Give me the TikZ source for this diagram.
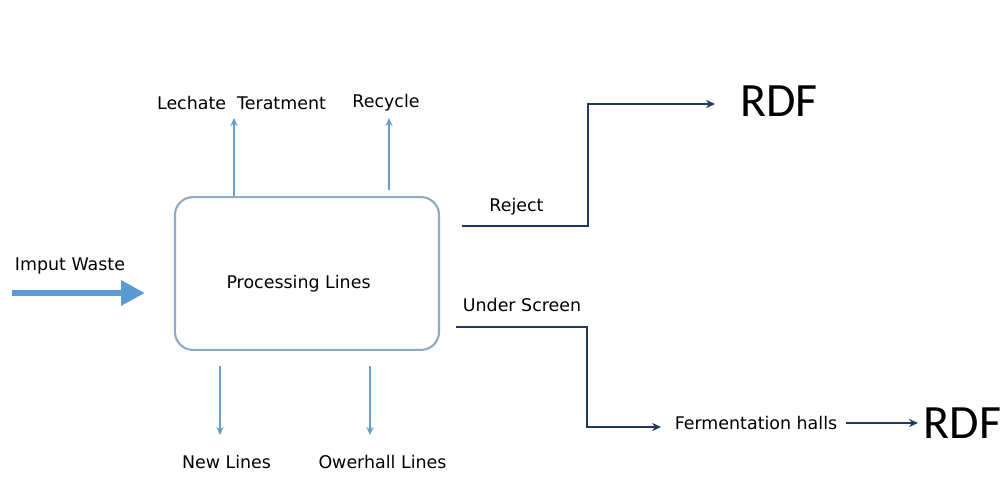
\documentclass[tikz,border=0pt]{standalone}
\usepackage{fontspec}
\setmainfont{DejaVu Sans}
\newfontfamily\rdffont{Carlito}
\usetikzlibrary{arrows.meta, positioning}
\definecolor{boxblue}{HTML}{8FAAC3}
\definecolor{sideblue}{HTML}{6A9CC8}
\definecolor{feedblue}{HTML}{5B9BD5}
\definecolor{routenavy}{HTML}{203864}

\begin{document}
\begin{tikzpicture}[
    x=0.025cm, y=-0.025cm,
    process/.style={draw=boxblue, line width=1.5pt, rounded corners=0.45cm, minimum width=6.6cm, minimum height=3.82cm, align=center},
    lbl/.style={font=\fontsize{12.4}{15}\selectfont, inner sep=1pt},
    rdf/.style={font=\rdffont\fontsize{34}{40}\selectfont, inner sep=0pt},
    side/.style={-{Stealth[length=2mm, width=1.8mm]}, draw=sideblue, line width=1.4pt},
    feed/.style={-{Triangle[length=17pt, width=17pt]}, draw=feedblue, line width=4.3pt},
    route/.style={-{Stealth[length=2.2mm, width=2mm]}, draw=routenavy, line width=2pt}
]
    \useasboundingbox (0,0) rectangle (1006,500);

    \node[process] (proc) at (307,273.5) {\fontsize{12.4}{15}\selectfont\raisebox{-11pt}[0pt][0pt]{Processing Lines\hspace{12pt}}};

    % input
    \node[lbl] (input) at (70,266) {Imput Waste};
    \coordinate (feedstart) at (12,293);
    \coordinate (feedend) at (145,293);
    \draw[feed] (feedstart) -- (feedend);

    % up and down
    \node[lbl] (lechate) at (241.5,103) {Lechate\ \ Teratment};
    \node[lbl] (recycle) at (386,103) {Recycle};
    \node[lbl] (newlines) at (226.5,462) {New Lines};
    \node[lbl] (overhaul) at (382.5,462) {Owerhall Lines};
    \coordinate (lechateend) at (234,118);
    \coordinate (recyclestart) at (389,190);
    \coordinate (recycleend) at (389,118);
    \coordinate (newstart) at (220,366);
    \coordinate (newend) at (220,435);
    \coordinate (overstart) at (370,366);
    \coordinate (overend) at (370,435);
    \draw[side] (proc.north -| lechateend) -- (lechateend);
    \draw[side] (recyclestart) -- (recycleend);
    \draw[side] (newstart) -- (newend);
    \draw[side] (overstart) -- (overend);

    % reject
    \node[lbl] (reject) at (516.5,207) {Reject};
    \node[rdf] (rdfA) at (779,101) {RDF};
    \coordinate (rejstart) at (462,226);
    \coordinate (rejturn) at (588,226);
    \coordinate (rejend) at (715,104);
    \draw[route] (rejstart) -- (rejturn) |- (rejend);

    % under screen
    \node[lbl] (under) at (522,305) {Under Screen};
    \node[lbl, inner sep=0pt] (ferment) at (756,423) {Fermentation halls};
    \node[rdf] (rdfB) at (962.5,423) {RDF};
    \coordinate (usstart) at (456,327);
    \coordinate (usturn) at (587,327);
    \coordinate (usend) at (661,427);
    \draw[route] (usstart) -- (usturn) |- (usend);
    \draw[route, shorten <=6pt, shorten >=4pt] (ferment.east) -- (rdfB.west);
\end{tikzpicture}
\end{document}
